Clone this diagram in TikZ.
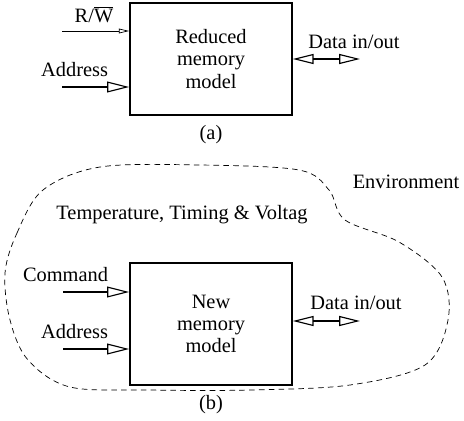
\documentclass[tikz,border=0pt]{standalone}
\usepackage{fontspec}
\setmainfont{Liberation Serif}
\usetikzlibrary{arrows.meta,positioning}

\begin{document}
\begin{tikzpicture}[x=0.025cm, y=-0.025cm, line join=miter,
    every node/.style = {font=\fontsize{14.5}{15.8}\selectfont},
    memory/.style = {draw, rectangle, line width=1.1pt, minimum width=4.05cm, align=center},
    bus/.style = {line width=2.1pt, -{Triangle[open, length=0.55cm, width=0.27cm, line width=0.8pt]}},
    iobus/.style = {line width=2.1pt, {Triangle[open, length=0.52cm, width=0.25cm, line width=0.8pt]}-{Triangle[open, length=0.52cm, width=0.25cm, line width=0.8pt]}},
    wire/.style = {line width=0.6pt, -{Triangle[open, length=0.26cm, width=0.12cm, line width=0.5pt]}}]

    \useasboundingbox (0,0) rectangle (464,420);

    % (a) reduced memory model
    \node[memory, minimum height=2.8cm] (reduced) at (211,59) {Reduced\\memory\\model};
    \node (rwlabel) at (94,15) {R/$\overline{\mbox{W}}$};
    \node[anchor=east] (addrlabel1) at (113,70) {Address};
    \node (datalabel1) at (354,42) {Data in/out};
    \node (capa) at (211,135) {(a)};

    \coordinate (rwin) at (62,31);
    \coordinate (addrin1) at (62,87);
    \coordinate (dataout1) at (360,59);

    \draw [wire] (rwin) -- (rwin -| reduced.west);
    \draw [bus] (addrin1) -- (addrin1 -| reduced.west);
    \draw [iobus] (dataout1 -| reduced.east) -- (dataout1);

    % (b) new memory model in its environment
    \draw [line width=0.5pt, dash pattern=on 4pt off 3pt]
        plot[smooth cycle, tension=0.55] coordinates {
        (5,273) (17,233) (43,190) (100,167) (200,165) (299,170) (329,190)
        (345,220) (399,242) (442,277) (448,320) (425,365) (350,385)
        (250,390) (150,390) (70,387) (28,360) (10,320)};

    \node[memory, minimum height=3.05cm] (new) at (211,324) {New\\memory\\model};
    \node (envlabel) at (406,182) {Environment};
    \node (condlabel) at (182,215) {Temperature, Timing \& Voltag};
    \node[anchor=east] (cmdlabel) at (113,275) {Command};
    \node[anchor=east] (addrlabel2) at (113,332) {Address};
    \node (datalabel2) at (356,303) {Data in/out};
    \node (capb) at (211,405) {(b)};

    \coordinate (cmdin) at (63,292);
    \coordinate (addrin2) at (63,349);
    \coordinate (dataout2) at (360,321);

    \draw [bus] (cmdin) -- (cmdin -| new.west);
    \draw [bus] (addrin2) -- (addrin2 -| new.west);
    \draw [iobus] (dataout2 -| new.east) -- (dataout2);

\end{tikzpicture}
\end{document}
